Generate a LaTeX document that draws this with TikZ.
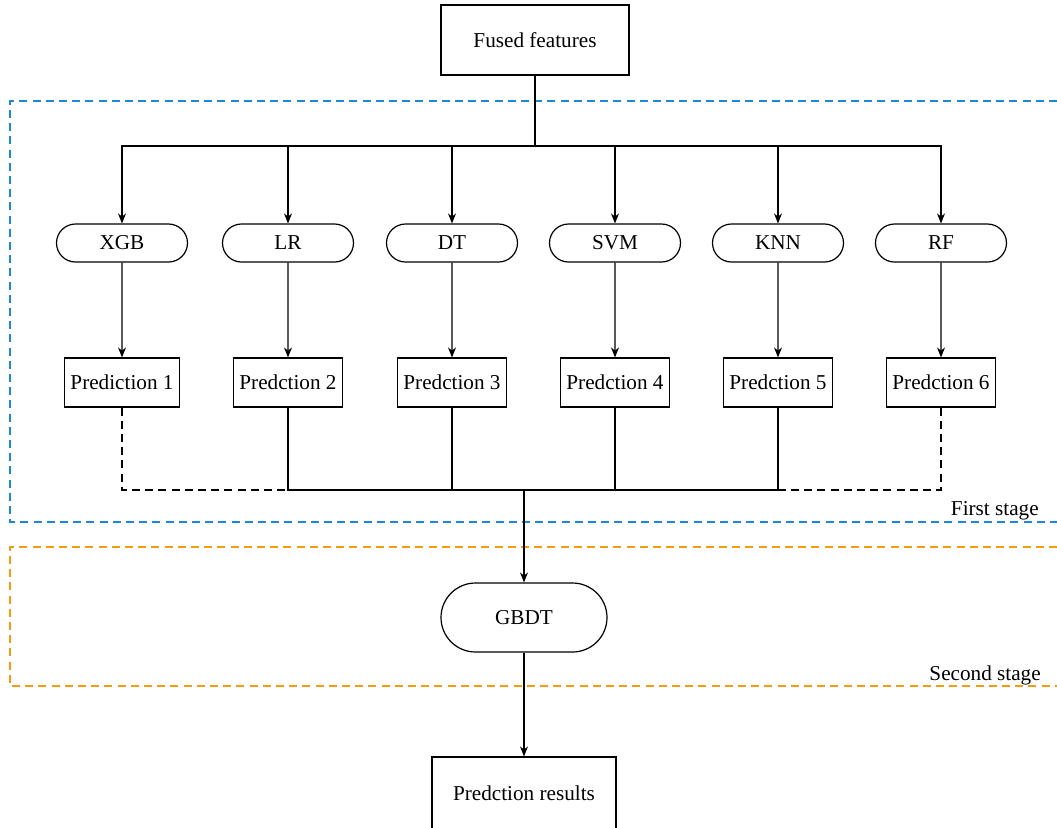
\documentclass[tikz,border=0pt]{standalone}
\usepackage{fontspec}
\setmainfont{Liberation Serif}
\usetikzlibrary{arrows.meta,positioning,calc,shapes}

\definecolor{stageblue}{RGB}{30,136,212}
\definecolor{stageorange}{RGB}{243,156,18}

\begin{document}
\begin{tikzpicture}[x=0.5pt, y=-0.5pt, line width=0.6pt,
    every node/.style={font=\fontsize{10.6}{13}\selectfont},
    box/.style={draw, rectangle, inner sep=3pt, minimum height=24.5pt},
    pill/.style={draw, rounded rectangle, minimum width=69.5pt, minimum height=19pt, inner sep=2pt},
    arr/.style={-{Stealth[length=5pt, width=4pt]}},
    stagedash/.style={dash pattern=on 4pt off 2.6pt, line width=0.7pt}]
    \useasboundingbox (0,0) rectangle (1057,827);

    % Stage frames
    \draw[stagedash, stageblue] (1057,101) -| (10,522) -- (1057,522);
    \draw[stagedash, stageorange] (1057,547) -| (10,686) -- (1057,686);
    \node[anchor=base east] (first) at (1046,515) {First stage};
    \node[anchor=base east] (second) at (1048,680) {Second stage};

    % Input
    \node[box, minimum width=94pt, minimum height=35pt] (fused) at (535,40) {Fused features};
    \coordinate (split) at (535,146);
    \draw (fused.south) -- (split);

    % Base learners
    \node[pill] (xgb) at (122,243) {XGB};
    \node[pill] (lr)  at (288,243) {LR};
    \node[pill] (dt)  at (452,243) {DT};
    \node[pill] (svm) at (615,243) {SVM};
    \node[pill] (knn) at (778,243) {KNN};
    \node[pill] (rf)  at (941,243) {RF};

    \draw[arr] (split) -| (xgb.north);
    \draw[arr] (split) -| (lr.north);
    \draw[arr] (split) -| (dt.north);
    \draw[arr] (split) -| (svm.north);
    \draw[arr] (split) -| (knn.north);
    \draw[arr] (split) -| (rf.north);

    % Predictions
    \node[box] (p1) at (122,382.5) {Prediction 1};
    \node[box] (p2) at (288,382.5) {Predction 2};
    \node[box] (p3) at (452,382.5) {Predction 3};
    \node[box] (p4) at (615,382.5) {Predction 4};
    \node[box] (p5) at (778,382.5) {Predction 5};
    \node[box] (p6) at (941,382.5) {Predction 6};

    \draw[arr] (xgb) -- (p1);
    \draw[arr] (lr) -- (p2);
    \draw[arr] (dt) -- (p3);
    \draw[arr] (svm) -- (p4);
    \draw[arr] (knn) -- (p5);
    \draw[arr] (rf) -- (p6);

    % Merge
    \coordinate (merge) at (524,490);
    \draw (p2.south) |- (merge);
    \draw (p3.south) |- (merge);
    \draw (p4.south) |- (merge);
    \draw (p5.south) |- (merge);
    \draw[dash pattern=on 4pt off 2.6pt] (p1.south) |- (p2.south |- merge);
    \draw[dash pattern=on 4pt off 2.6pt] (p6.south) |- (p5.south |- merge);

    % Meta learner
    \node[pill, minimum width=87pt, minimum height=34.5pt] (gbdt) at (524,617.5) {GBDT};
    \draw[arr] (merge) -- (gbdt.north);

    \node[box, minimum width=92pt, minimum height=36pt] (result) at (524,793) {Predction results};
    \draw[arr] (gbdt.south) -- (result.north);
\end{tikzpicture}
\end{document}
